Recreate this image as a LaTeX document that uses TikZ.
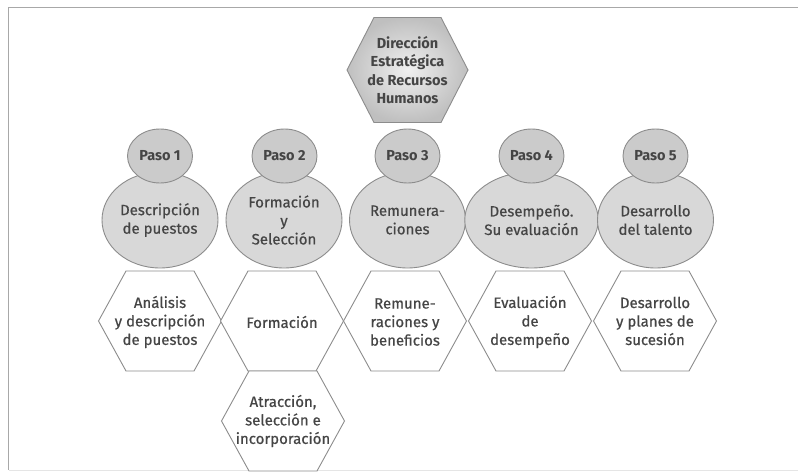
\documentclass[tikz,border=0pt]{standalone}
\usepackage{fontspec}
\usetikzlibrary{shapes.geometric}
\setmainfont{Fira Sans}
\newfontfamily\medfont[FakeBold=0.6]{Fira Sans}
\definecolor{linegray}{HTML}{8C8C8C}
\definecolor{txtgray}{HTML}{454545}
\definecolor{bigfill}{HTML}{D8D8D8}
\definecolor{smallfill}{HTML}{CBCBCB}
\definecolor{framegray}{HTML}{A8A8A8}
\begin{document}
\begin{tikzpicture}[x=1pt,y=-1pt,
  hexline/.style={draw=linegray,line width=0.9pt,fill=white,line join=miter},
  tophex/.style={draw=linegray,line width=0.9pt,inner color=gray!12,outer color=gray!50},
  bigcirc/.style={ellipse,draw=linegray,line width=0.9pt,fill=bigfill,minimum width=116pt,minimum height=96pt,inner sep=0pt},
  smallcirc/.style={ellipse,draw=linegray,line width=0.9pt,fill=smallfill,minimum width=65pt,minimum height=54pt,inner sep=0pt},
  txt/.style={align=center,text=txtgray,font=\medfont\fontsize{15}{18.5}\selectfont,inner sep=0pt},
  btxt/.style={align=center,text=txtgray,font=\bfseries\fontsize{14.5}{18.5}\selectfont,inner sep=0pt}
]
\useasboundingbox (0,0) rectangle (798,476);
% frame
\draw[framegray,line width=1pt] (8,7.5) -- (798,7.5);
\draw[framegray,line width=1pt] (8.5,7.5) -- (8.5,470);
\draw[gray!20,line width=0.8pt] (8.5,470) -- (798,470);

% top hexagon
\path[tophex,shift={(407.5,70)}] (-60.5,0) -- (-33.5,-52.5) -- (33.5,-52.5) -- (60.5,0) -- (33.5,52.5) -- (-33.5,52.5) -- cycle;
\node[btxt] (top) at (407.5,70) {Dirección\\Estratégica\\de Recursos\\Humanos};

% big circles
\node[bigcirc,txt] (c1) at (160,220) {Descripción\\de puestos};
\node[bigcirc,txt] (c2) at (284,220) {Formación\\y\\Selección};
\node[bigcirc,txt] (c3) at (407.5,220) {Remunera-\\ciones};
\node[bigcirc,txt] (c4) at (531.5,220) {Desempeño.\\Su evaluación};
\node[bigcirc,txt] (c5) at (655.5,220) {Desarrollo\\del talento};

% small circles
\node[smallcirc,btxt] (p1) at (160,156) {Paso 1};
\node[smallcirc,btxt] (p2) at (284.5,156) {Paso 2};
\node[smallcirc,btxt] (p3) at (407.5,156) {Paso 3};
\node[smallcirc,btxt] (p4) at (531.5,156) {Paso 4};
\node[smallcirc,btxt] (p5) at (655.5,156) {Paso 5};

% bottom hexagons
\foreach \cx in {160,282,405,530,655}{
  \path[hexline,shift={(\cx,321)}] (-61.5,0) -- (-34,-50) -- (34,-50) -- (61.5,0) -- (34,50) -- (-34,50) -- cycle;
}
\path[hexline,shift={(283,421)}] (-61.5,0) -- (-34,-50) -- (34,-50) -- (61.5,0) -- (34,50) -- (-34,50) -- cycle;

\node[txt] (h1) at (160,322) {Análisis\\y descripción\\de puestos};
\node[txt] (h2) at (282,322) {Formación};
\node[txt] (h3) at (405,322) {Remune-\\raciones y\\beneficios};
\node[txt] (h4) at (530,322) {Evaluación\\de\\desempeño};
\node[txt] (h5) at (655,321) {Desarrollo\\y planes de\\sucesión};
\node[txt] (h6) at (283,421) {Atracción,\\selección e\\incorporación};
\end{tikzpicture}
\end{document}
